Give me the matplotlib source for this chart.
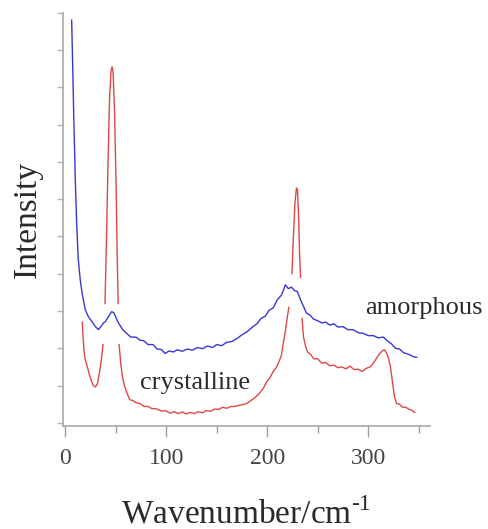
import numpy as np
import matplotlib
matplotlib.use('Agg')
from matplotlib import pyplot as plt

plt.rcParams['font.family'] = ['Liberation Serif', 'DejaVu Serif']
plt.rcParams['mathtext.fontset'] = 'custom'
plt.rcParams['mathtext.rm'] = 'Liberation Serif'

# amorphous (blue) spectrum
amor_x = [6.5, 7.5, 8.5, 10, 11.5, 13, 15, 17, 20, 23, 27, 30, 33, 36, 38, 40, 43,
          46, 48, 50, 52, 54, 57, 61, 65, 70, 74, 78, 82, 87, 91, 95, 99, 103, 107,
          111, 116, 121, 126, 131, 136, 141, 146, 150, 155, 160, 165, 170, 175, 180,
          185, 190, 194, 198, 202, 206, 210, 214, 216, 218, 221, 224, 227, 230, 233,
          236, 239, 242, 246, 250, 254, 258, 262, 266, 270, 275, 280, 285, 290, 295,
          300, 305, 310, 315, 319, 323, 327, 331, 335, 340, 345, 348]
amor_y = [10.8, 9.6, 8.3, 6.6, 5.3, 4.4, 3.83, 3.45, 3.03, 2.85, 2.7, 2.58, 2.5, 2.6,
          2.68, 2.72, 2.85, 2.98, 2.96, 2.85, 2.72, 2.63, 2.5, 2.4, 2.3, 2.3, 2.22,
          2.2, 2.1, 2.1, 1.98, 1.97, 1.86, 1.93, 1.9, 1.96, 1.92, 1.98, 1.95, 2.02,
          1.99, 2.06, 2.02, 2.1, 2.07, 2.16, 2.18, 2.26, 2.36, 2.44, 2.56, 2.66, 2.8,
          2.86, 3.02, 3.08, 3.3, 3.42, 3.55, 3.7, 3.6, 3.64, 3.55, 3.52, 3.3, 3.12,
          2.94, 2.9, 2.78, 2.74, 2.68, 2.7, 2.62, 2.66, 2.57, 2.58, 2.5, 2.5, 2.42,
          2.4, 2.34, 2.34, 2.28, 2.3, 2.2, 2.12, 2.0, 1.98, 1.88, 1.84, 1.77, 1.76]

# crystalline (red) spectrum; nan = where the trace is broken in the original
crys_x = [17, 18, 19, 20, 22, 24, 26, 28, 30, 32, 34, 36, 37.5, 38.5, 39.5, 41, 42.5,
          44, 45.5, 46.5, 47.5, 49, 50.5, 51.5, 52.5, 53, 53.5, 55, 57, 59, 62, 64, 67,
          70, 74, 78, 82, 86, 90, 95, 100, 104, 108, 112, 116, 120, 124, 128, 132,
          136, 140, 144, 148, 152, 156, 160, 164, 168, 172, 176, 180, 184, 188, 192,
          196, 200, 203, 206, 209, 212, 214, 216, 218, 220, 221.5, 223, 224.5, 226,
          227.5, 229, 230, 231, 232, 233, 233.5, 234.5, 236, 238, 240, 243, 246, 250,
          254, 258, 262, 266, 270, 274, 278, 282, 286, 290, 294, 298, 302, 305, 308,
          311, 314, 316, 318, 320, 322, 324, 326, 328, 331, 334, 337, 340, 343, 346]
crys_y = [2.7, 2.2, 1.85, 1.7, 1.5, 1.3, 1.12, 1.0, 0.96, 1.05, 1.35, 1.7, 2.1, np.nan,
          3.2, 5.0, 7.0, 8.7, 9.45, 9.55, 9.4, 8.3, 6.3, 4.6, 3.2, np.nan, 2.1, 1.6,
          1.2, 0.97, 0.75, 0.62, 0.6, 0.54, 0.52, 0.44, 0.44, 0.38, 0.38, 0.32, 0.32,
          0.26, 0.3, 0.25, 0.29, 0.24, 0.28, 0.25, 0.3, 0.27, 0.33, 0.31, 0.37, 0.36,
          0.42, 0.39, 0.44, 0.44, 0.47, 0.49, 0.52, 0.6, 0.68, 0.78, 0.92, 1.12, 1.22,
          1.38, 1.48, 1.66, 1.8, 2.15, 2.45, 2.85, 3.1, np.nan, 4.0, 5.0, 5.9, 6.3,
          6.25, 5.6, 4.6, 3.9, np.nan, 2.8, 2.3, 2.05, 1.9, 1.84, 1.72, 1.72, 1.6,
          1.62, 1.53, 1.55, 1.48, 1.5, 1.45, 1.52, 1.43, 1.44, 1.38, 1.46, 1.5, 1.6,
          1.72, 1.85, 1.93, 1.96, 1.88, 1.75, 1.5, 1.1, 0.7, 0.52, 0.5, 0.42, 0.42,
          0.37, 0.34, 0.28]

labels = ['crystalline', 'amorphous']
xticks = [0, 100, 200, 300]

fig = plt.figure(figsize=(4.89, 5.29), dpi=100)
ax = fig.add_axes([0.129, 0.195, 0.750, 0.781])

ax.plot(amor_x, amor_y, color='#3838d4', lw=1.0)
ax.plot(crys_x, crys_y, color='#e04848', lw=1.0)

ax.text(129, 1.07, labels[0], fontsize=19, color='#2a2a2a', ha='center', va='center')
ax.text(355, 3.08, labels[1], fontsize=19, color='#2a2a2a', ha='center', va='center')

ax.set_xlim(-2, 361)
ax.set_ylim(-0.08, 11.0)
ax.set_xticks(xticks)
ax.set_xticklabels([str(t) for t in xticks])
ax.set_xticks([50, 150, 250, 350], minor=True)
ax.set_yticks(range(12))
ax.set_yticklabels([])

for s in ['top', 'right']:
    ax.spines[s].set_visible(False)
for s in ['left', 'bottom']:
    ax.spines[s].set_color('#a0a0a0')
    ax.spines[s].set_linewidth(1.1)

ax.tick_params(axis='x', which='major', length=8, width=1, color='#a0a0a0',
               labelsize=17, labelcolor='#444444', pad=8)
ax.tick_params(axis='x', which='minor', length=5, width=1, color='#a0a0a0')
ax.tick_params(axis='y', length=4, width=1, color='#b5b5b5')

ax.set_xlabel('Wavenumber/cm$^{\\text{-1}}$', fontsize=24, color='#2a2a2a', va='center')
ax.xaxis.set_label_coords(0.5, -0.213)
ax.set_ylabel('Intensity', fontsize=24, color='#2a2a2a', va='center')
ax.yaxis.set_label_coords(-0.098, 0.5)

fig.savefig('out.png', dpi=100)
